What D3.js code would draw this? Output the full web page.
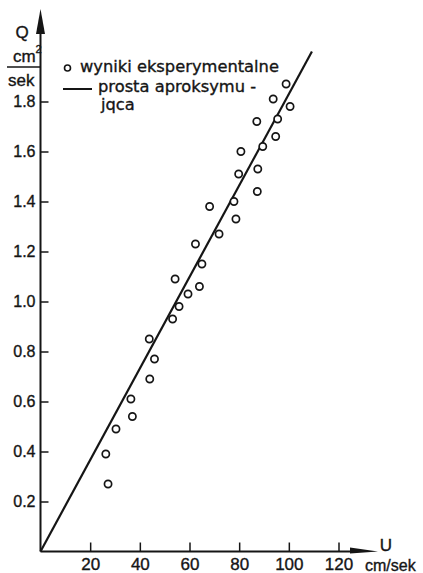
<!DOCTYPE html>
<html><head><meta charset="utf-8">
<script src="https://cdn.jsdelivr.net/npm/d3@7"></script>
<style>
html,body{margin:0;padding:0;background:#fff;}
svg{display:block;}
text{fill:#151515;stroke:#151515;stroke-width:0.35px;}
</style></head>
<body>
<svg id="chart" width="423" height="573"></svg>
<script>
// Data: U [cm/sek], Q [cm^2/sek]
const velocityU = [98.9, 93.7, 100.5, 87.1, 95.5, 94.7, 89.5, 80.7, 79.8, 87.5,
                   87.3, 68.1, 77.9, 78.7, 71.9, 62.4, 65.0, 54.2, 64.0, 59.4,
                   55.8, 53.2, 43.8, 45.9, 44.0, 36.4, 37.0, 30.4, 26.3, 27.2];
const flowQ     = [1.87, 1.81, 1.78, 1.72, 1.73, 1.66, 1.62, 1.60, 1.51, 1.53,
                   1.44, 1.38, 1.40, 1.33, 1.27, 1.23, 1.15, 1.09, 1.06, 1.03,
                   0.98, 0.93, 0.85, 0.77, 0.69, 0.61, 0.54, 0.49, 0.39, 0.27];
const fitU = [0, 109.3];
const fitQ = [0, 2.0];
const xTicks = [20, 40, 60, 80, 100, 120];
const yTicks = [0.2, 0.4, 0.6, 0.8, 1.0, 1.2, 1.4, 1.6, 1.8];
const legendLabels = ["wyniki eksperymentalne", "prosta aproksymu -", "jqca"];

const svg = d3.select("#chart");
const ink = "#151515";
const x = d3.scaleLinear().domain([0, 120]).range([40.5, 338.5]);
const y = d3.scaleLinear().domain([0, 1.8]).range([551.5, 101.5]);

// axes lines
svg.append("line").attr("x1", x(0)).attr("x2", 352).attr("y1", y(0)).attr("y2", y(0))
  .attr("stroke", ink).attr("stroke-width", 2);
svg.append("line").attr("x1", x(0)).attr("x2", x(0)).attr("y1", y(0)).attr("y2", 30)
  .attr("stroke", ink).attr("stroke-width", 2);
// arrows
svg.append("path").attr("d", `M${x(0)},9 L${x(0)+4.5},34 L${x(0)-4.5},34 Z`).attr("fill", ink);
svg.append("path").attr("d", `M378,${y(0)} L350,${y(0)-4} L350,${y(0)+2} Z`).attr("fill", ink);

// x axis ticks
const xAxis = d3.axisBottom(x).tickValues(xTicks).tickSize(-9).tickPadding(6).tickFormat(d3.format("d"));
const gx = svg.append("g").attr("transform", `translate(0,${y(0)})`).call(xAxis);
gx.select(".domain").remove();
gx.selectAll(".tick line").attr("stroke", ink).attr("stroke-width", 1.5);
gx.selectAll(".tick text").attr("font-family", "Liberation Sans, Arial, sans-serif")
  .attr("font-size", 17).attr("fill", ink);

// y axis ticks
const yAxis = d3.axisLeft(y).tickValues(yTicks).tickSize(-8).tickPadding(5).tickFormat(d3.format(".1f"));
const gy = svg.append("g").attr("transform", `translate(${x(0)},0)`).call(yAxis);
gy.select(".domain").remove();
gy.selectAll(".tick line").attr("stroke", ink).attr("stroke-width", 1.5);
gy.selectAll(".tick text").attr("font-family", "Liberation Sans, Arial, sans-serif")
  .attr("font-size", 16).attr("fill", ink);

const fontLab = "Liberation Sans, Arial, sans-serif";
// axis titles
svg.append("text").attr("x", 386).attr("y", 551).attr("text-anchor", "middle")
  .attr("font-family", fontLab).attr("font-size", 17).text("U");
svg.append("text").attr("x", 365).attr("y", 571)
  .attr("font-family", fontLab).attr("font-size", 16).text("cm/sek");
svg.append("text").attr("x", 22).attr("y", 38).attr("text-anchor", "middle")
  .attr("font-family", fontLab).attr("font-size", 17).text("Q");
svg.append("text").attr("x", 13).attr("y", 62)
  .attr("font-family", fontLab).attr("font-size", 17).text("cm");
svg.append("text").attr("x", 35.5).attr("y", 53)
  .attr("font-family", fontLab).attr("font-size", 11).text("2");
svg.append("line").attr("x1", 7).attr("x2", 41).attr("y1", 67).attr("y2", 67)
  .attr("stroke", ink).attr("stroke-width", 1.6);
svg.append("text").attr("x", 8).attr("y", 86)
  .attr("font-family", fontLab).attr("font-size", 17).text("sek");

// fit line
svg.append("line")
  .attr("x1", x(fitU[0])).attr("y1", y(fitQ[0]))
  .attr("x2", x(fitU[1])).attr("y2", y(fitQ[1]))
  .attr("stroke", ink).attr("stroke-width", 2.2);

// points
svg.append("g").selectAll("circle").data(velocityU.map((u, i) => [u, flowQ[i]]))
  .join("circle")
  .attr("cx", d => x(d[0])).attr("cy", d => y(d[1])).attr("r", 3.6)
  .attr("fill", "#fff").attr("stroke", ink).attr("stroke-width", 1.7);

// legend
const fontLeg = "DejaVu Sans, Verdana, sans-serif";
svg.append("circle").attr("cx", 67.5).attr("cy", 68).attr("r", 3)
  .attr("fill", "none").attr("stroke", ink).attr("stroke-width", 1.6);
svg.append("text").attr("x", 80).attr("y", 72).attr("font-family", fontLeg)
  .attr("font-size", 16.3).text(legendLabels[0]);
svg.append("line").attr("x1", 63).attr("x2", 92).attr("y1", 89).attr("y2", 89)
  .attr("stroke", ink).attr("stroke-width", 2);
svg.append("text").attr("x", 98).attr("y", 92).attr("font-family", fontLeg)
  .attr("font-size", 16.3).text(legendLabels[1]);
svg.append("text").attr("x", 101).attr("y", 110).attr("font-family", fontLeg)
  .attr("font-size", 16.3).text(legendLabels[2]);
</script>
</body></html>
